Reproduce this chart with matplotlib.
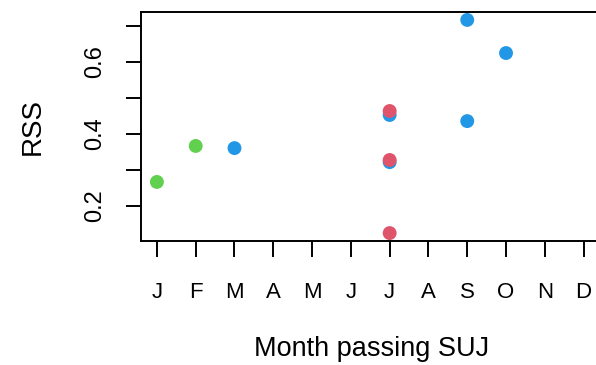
import matplotlib.pyplot as plt

plt.rcParams['font.family'] = ['Liberation Sans', 'DejaVu Sans']

months = ['J', 'F', 'M', 'A', 'M', 'J', 'J', 'A', 'S', 'O', 'N', 'D']

# RSS by month, one list per group
blue_month = [3, 7, 7, 9, 9, 10]
blue_rss = [0.361, 0.453, 0.322, 0.717, 0.436, 0.625]
red_month = [7, 7, 7]
red_rss = [0.464, 0.328, 0.125]
green_month = [1, 2]
green_rss = [0.267, 0.367]

fig = plt.figure(figsize=(5.96, 3.65), dpi=100)
ax = fig.add_axes([141 / 596, 124 / 365, 462 / 596, 229 / 365])

ax.scatter(green_month, green_rss, s=100, color='#61D04F', edgecolors='none', zorder=3)
ax.scatter(blue_month, blue_rss, s=100, color='#2297E6', edgecolors='none', zorder=3)
ax.scatter(red_month, red_rss, s=100, color='#DF536B', edgecolors='none', zorder=4)

ax.set_xlim(0.59, 12.5)
ax.set_ylim(0.103, 0.739)

ax.set_xticks(range(1, 13))
ax.set_xticklabels(months, fontsize=16)
ax.set_yticks([0.2, 0.3, 0.4, 0.5, 0.6, 0.7])
ax.set_yticklabels(['0.2', '', '0.4', '', '0.6', ''], fontsize=17, rotation=90, va='center')

ax.tick_params(axis='x', length=11.5, width=1.4, pad=18)
ax.tick_params(axis='y', length=11, width=1.4, pad=14)
for s in ax.spines.values():
    s.set_linewidth(1.4)
ax.spines['right'].set_visible(False)

ax.set_xlabel('Month passing SUJ', fontsize=19.5, labelpad=24)
ax.set_ylabel('RSS', fontsize=20, labelpad=28)

fig.savefig('out.png', dpi=100)
